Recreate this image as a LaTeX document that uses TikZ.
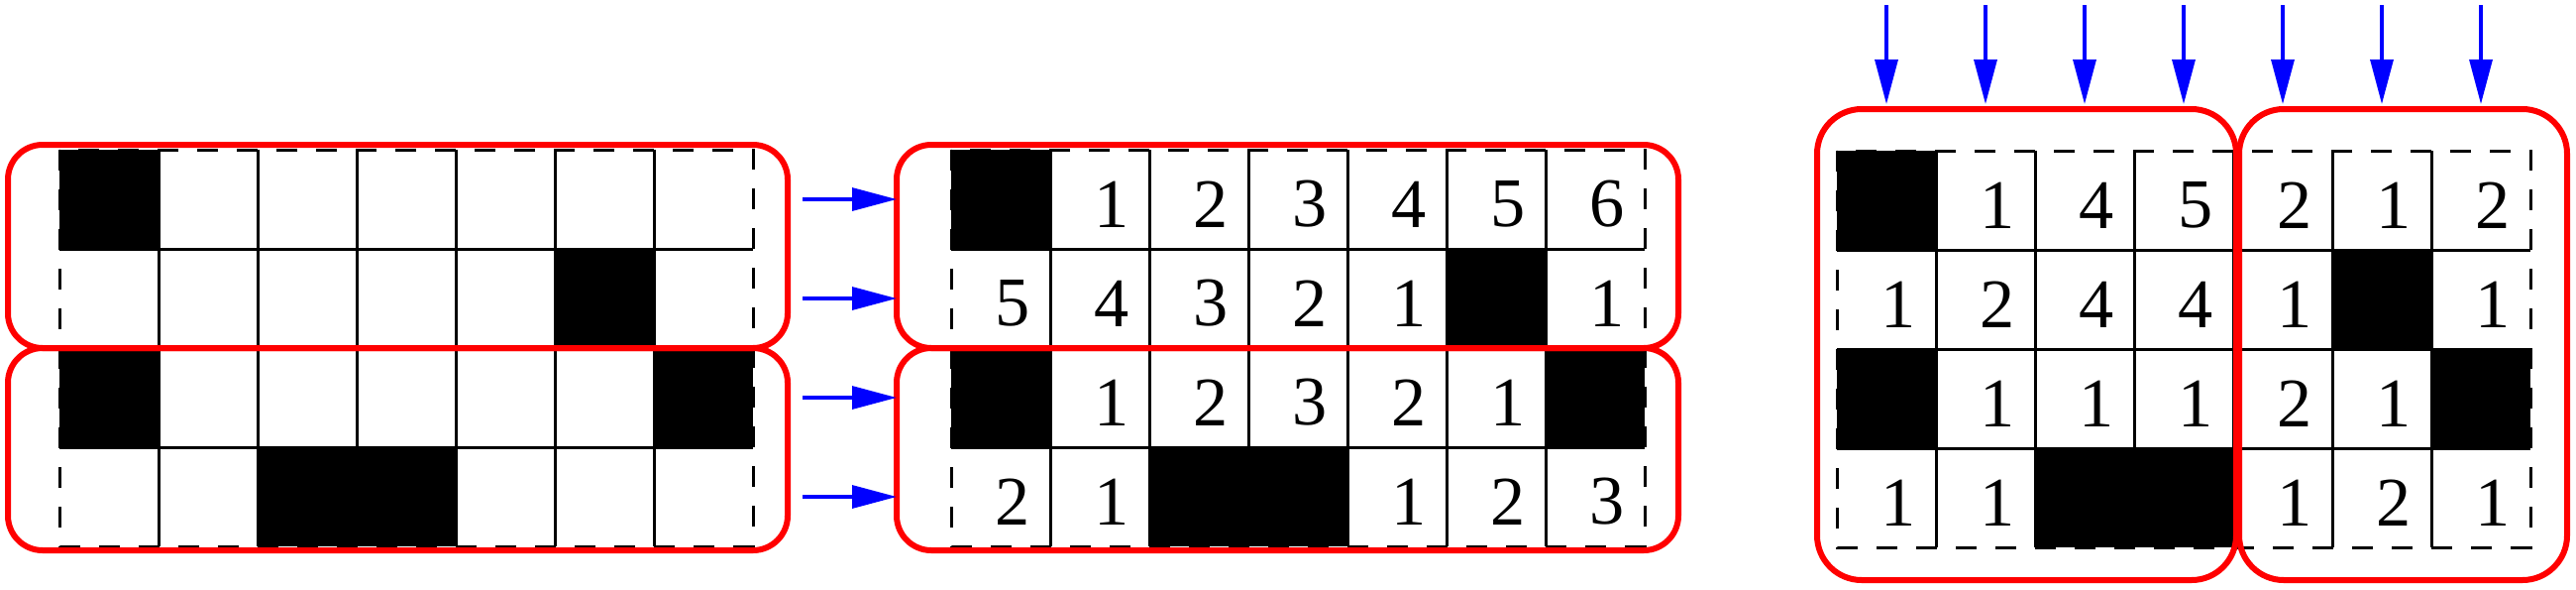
\documentclass[tikz,border=0pt]{standalone}
\usepackage{fontspec}
\setmainfont{Liberation Serif}
\usetikzlibrary{arrows.meta}
\tikzset{
	cellline/.style={line width=0.3mm},
	border/.style={line width=0.3mm,dash pattern=on 2.1mm off 1.9mm},
	frame/.style={draw=red,line width=0.6mm,rounded corners=3.5mm},
	wideframe/.style={frame,rounded corners=4.5mm},
	feed/.style={draw=blue,line width=0.33mm,-{Triangle[length=4.5mm,width=2.3mm]}},
	digit/.style={inner sep=0pt,font=\fontsize{20}{24}\selectfont},
}
\newcommand{\drawboard}{%
	\foreach \i in {1,...,6} \draw[cellline] (\i,0) -- (\i,4);
	\foreach \j in {1,2,3} \draw[cellline] (0,\j) -- (7,\j);
	\draw[border] (0,0) rectangle (7,4);
	\foreach \c/\r in {0/0,5/1,0/2,6/2,2/3,3/3} \fill (\c,\r) rectangle ++(1,1);
}
\begin{document}
\begin{tikzpicture}[x=1cm,y=-1cm]
		\useasboundingbox (0,0) rectangle (26,5.94);
		\begin{scope}[shift={(0.60,1.51)}]
			\drawboard
		\end{scope}
		\begin{scope}[shift={(9.60,1.51)}]
			\drawboard
			\foreach \c/\r/\v in {1/0/1,2/0/2,3/0/3,4/0/4,5/0/5,6/0/6,
				0/1/5,1/1/4,2/1/3,3/1/2,4/1/1,6/1/1,
				1/2/1,2/2/2,3/2/3,4/2/2,5/2/1,
				0/3/2,1/3/1,4/3/1,5/3/2,6/3/3}
				\node[digit] (b-\c-\r) at (\c+0.62,\r+0.55) {\v};
		\end{scope}
		\begin{scope}[shift={(18.54,1.52)}]
			\drawboard
			\foreach \c/\r/\v in {1/0/1,2/0/4,3/0/5,4/0/2,5/0/1,6/0/2,
				0/1/1,1/1/2,2/1/4,3/1/4,4/1/1,6/1/1,
				1/2/1,2/2/1,3/2/1,4/2/2,5/2/1,
				0/3/1,1/3/1,4/3/1,5/3/2,6/3/1}
				\node[digit] (c-\c-\r) at (\c+0.62,\r+0.55) {\v};
		\end{scope}
		\draw[frame] (0.08,1.46) rectangle (7.95,3.51);
		\draw[frame] (0.08,3.51) rectangle (7.95,5.55);
		\draw[frame] (9.05,1.46) rectangle (16.94,3.51);
		\draw[frame] (9.05,3.51) rectangle (16.94,5.55);
		\draw[wideframe] (18.34,1.10) rectangle (22.57,5.85);
		\draw[wideframe] (22.60,1.10) rectangle (25.91,5.85);
		\foreach \k in {0,...,3} {
			\coordinate (src\k) at (8.10,2.01+\k);
			\coordinate (dst\k) at (9.05,2.01+\k);
			\draw[feed] (src\k) -- (dst\k);
		}
		\foreach \k in {0,...,6} {
			\coordinate (top\k) at (19.04+\k,0.05);
			\coordinate (col\k) at (19.04+\k,1.05);
			\draw[feed] (top\k) -- (col\k);
		}
		
\end{tikzpicture}
\end{document}
